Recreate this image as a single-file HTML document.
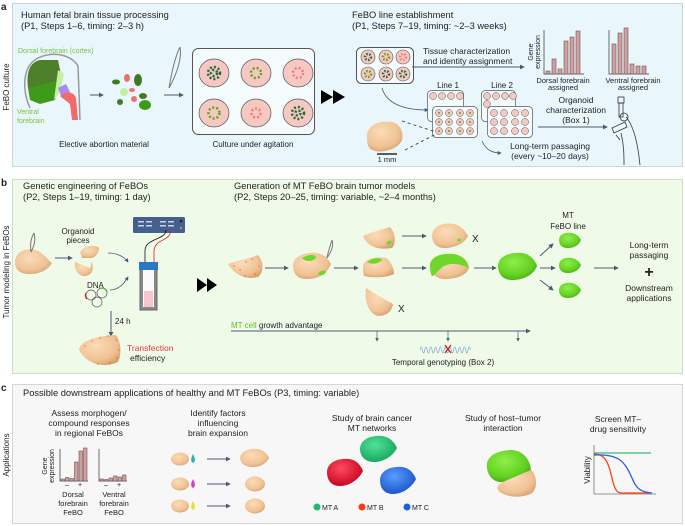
<!DOCTYPE html>
<html><head><meta charset="utf-8"><style>
html,body{margin:0;padding:0;background:#fff;}
svg{display:block;font-family:"Liberation Sans",sans-serif;}
text{fill:#222;}
</style></head><body>
<svg width="685" height="526" viewBox="0 0 685 526" xmlns="http://www.w3.org/2000/svg">
<defs>
<radialGradient id="tan" cx="0.4" cy="0.35" r="0.7"><stop offset="0" stop-color="#fbdcb8"/><stop offset="0.7" stop-color="#f0c294"/><stop offset="1" stop-color="#d9a272"/></radialGradient>
<radialGradient id="grn" cx="0.4" cy="0.35" r="0.7"><stop offset="0" stop-color="#8ef04a"/><stop offset="0.7" stop-color="#62d020"/><stop offset="1" stop-color="#44a812"/></radialGradient>
<radialGradient id="gA" cx="0.4" cy="0.35" r="0.7"><stop offset="0" stop-color="#4fe39a"/><stop offset="1" stop-color="#16a25a"/></radialGradient>
<radialGradient id="gB" cx="0.4" cy="0.35" r="0.7"><stop offset="0" stop-color="#ff4a5e"/><stop offset="1" stop-color="#c4001c"/></radialGradient>
<radialGradient id="gC" cx="0.4" cy="0.35" r="0.7"><stop offset="0" stop-color="#5a9cff"/><stop offset="1" stop-color="#1850c8"/></radialGradient>
<marker id="ar" viewBox="0 0 6 6" refX="5" refY="3" markerWidth="5" markerHeight="5" orient="auto"><path d="M0,0L6,3L0,6z" fill="#4a5a72"/></marker>
</defs>

<!-- Panel frames -->
<rect x="12.5" y="3.5" width="670" height="163" fill="#e9f6fb" stroke="#c8d6dc"/>
<rect x="12.5" y="179.5" width="670" height="194" fill="#f0fae9" stroke="#cfdcc8"/>
<rect x="12.5" y="384.5" width="670" height="139" fill="#f7f7f7" stroke="#d6d6d6"/>
<text x="1" y="10" font-size="10" font-weight="bold" fill="#000">a</text>
<text x="1" y="186" font-size="10" font-weight="bold" fill="#000">b</text>
<text x="1" y="391" font-size="10" font-weight="bold" fill="#000">c</text>
<text transform="translate(9,87) rotate(-90)" text-anchor="middle" font-size="8">FeBO culture</text>
<text transform="translate(9,272) rotate(-90)" text-anchor="middle" font-size="8">Tumor modeling in FeBOs</text>
<text transform="translate(9,455) rotate(-90)" text-anchor="middle" font-size="8">Applications</text>

<!-- ===== Panel a ===== -->
<text x="21" y="18" font-size="9.3">Human fetal brain tissue processing</text>
<text x="21" y="29" font-size="9.3">(P1, Steps 1–6, timing: 2–3 h)</text>
<text x="352" y="18" font-size="9.3">FeBO line establishment</text>
<text x="352" y="29" font-size="9.3">(P1, Steps 7–19, timing: ~2–3 weeks)</text>
<text x="18" y="53" font-size="7" fill="#7dc142" style="fill:#7dc142">Dorsal forebrain (cortex)</text>
<path d="M30,108 C22,90 22,66 38,58 C55,50 72,56 78,66 L80,120" fill="none" stroke="#999" stroke-width="1.5"/>
<path d="M28,88 C26,72 30,62 40,60 L58,60 L62,80 L45,86 Z" fill="#4e7f2a"/>
<path d="M28,88 L45,84 L60,80 L55,100 L40,104 L30,100 Z" fill="#3f9a1a"/>
<path d="M58,70 L64,74 L60,92 L54,100 Z" fill="#c4f0a0"/>
<path d="M58,88 L66,84 L70,92 L62,98 Z" fill="#a88af0"/>
<path d="M60,96 C66,90 74,92 76,98 L78,120 L72,120 L70,104 Z" fill="#f26a6a"/>
<text x="17" y="114" font-size="7" style="fill:#7dc142">Ventral</text>
<text x="17" y="123" font-size="7" style="fill:#7dc142">forebrain</text>
<line x1="90" y1="95" x2="103" y2="95" stroke="#4a5a72" marker-end="url(#ar)"/>
<g>
<ellipse cx="116" cy="82" rx="4" ry="2.5" fill="#3f7a22"/><ellipse cx="127" cy="78" rx="3" ry="4" fill="#f07070"/>
<ellipse cx="138" cy="80" rx="4" ry="6" fill="#3f7a22"/><ellipse cx="124" cy="92" rx="4" ry="4" fill="#c4f0a0"/>
<ellipse cx="132" cy="90" rx="3" ry="2" fill="#f07070"/><ellipse cx="143" cy="96" rx="4" ry="3" fill="#3f7a22"/>
<ellipse cx="134" cy="99" rx="3" ry="3" fill="#f07070"/><ellipse cx="145" cy="105" rx="6" ry="5" fill="#3f9a1a"/>
<ellipse cx="120" cy="102" rx="3" ry="3" fill="#3f7a22"/>
</g>
<text x="104" y="147" text-anchor="middle" font-size="8">Elective abortion material</text>
<path d="M180,47 C176,55 172,70 169,88 M180,47 C182,56 178,72 169,88" stroke="#777" fill="none"/>
<line x1="164" y1="95" x2="183" y2="95" stroke="#4a5a72" marker-end="url(#ar)"/>
<rect x="192.5" y="48.5" width="122" height="86" rx="6" fill="#f3fbfd" stroke="#555"/>
<g fill="#f6c8c2" stroke="#555" stroke-width="0.7">
<ellipse cx="214" cy="73" rx="15" ry="14"/><ellipse cx="256" cy="73" rx="15" ry="14"/><ellipse cx="298" cy="73" rx="15" ry="14"/>
<ellipse cx="214" cy="113" rx="15" ry="14"/><ellipse cx="256" cy="113" rx="15" ry="14"/><ellipse cx="298" cy="113" rx="15" ry="14"/>
</g>
<g stroke-width="2.5" stroke-dasharray="2 2" fill="none">
<circle cx="214" cy="73" r="6" stroke="#1f6b3a"/><circle cx="214" cy="73" r="3" stroke="#1f6b3a"/>
<circle cx="256" cy="73" r="5" stroke="#5ea51e"/>
<circle cx="298" cy="73" r="5" stroke="#f57a7a"/>
<circle cx="214" cy="113" r="5.5" stroke="#5ea51e"/>
<circle cx="256" cy="113" r="4.5" stroke="#f57a7a"/>
<circle cx="298" cy="113" r="6" stroke="#1f6b3a"/><circle cx="298" cy="113" r="2.5" stroke="#1f6b3a"/>
</g>
<text x="253" y="147" text-anchor="middle" font-size="8">Culture under agitation</text>
<path d="M321,90 L333,97 L321,104 Z M333,90 L345,97 L333,104 Z" fill="#000"/>
<rect x="356.5" y="47.5" width="57" height="36" rx="5" fill="#f3fbfd" stroke="#555"/>
<g fill="#f6c8c2" stroke="#555" stroke-width="0.6">
<circle cx="368" cy="57" r="7"/><circle cx="386" cy="57" r="7"/><circle cx="403" cy="57" r="7"/>
<circle cx="368" cy="74" r="7"/><circle cx="386" cy="74" r="7"/><circle cx="403" cy="74" r="7"/>
</g>
<g fill="none" stroke-width="2.5" stroke-dasharray="1.5 1.5">
<circle cx="368" cy="57" r="3" stroke="#1f6b3a"/><circle cx="386" cy="57" r="3" stroke="#5ea51e"/><circle cx="403" cy="57" r="3" stroke="#f57a7a"/>
<circle cx="368" cy="74" r="3" stroke="#5ea51e"/><circle cx="386" cy="74" r="3" stroke="#1f6b3a"/><circle cx="403" cy="74" r="3" stroke="#1f6b3a"/>
</g>
<text x="423" y="54" font-size="8.5">Tissue characterization</text>
<text x="423" y="64" font-size="8.5">and identity assignment</text>
<line x1="412" y1="67" x2="524" y2="67" stroke="#4a5a72" marker-end="url(#ar)"/>
<text transform="translate(533,52) rotate(-90)" text-anchor="middle" font-size="7">Gene</text>
<text transform="translate(540,52) rotate(-90)" text-anchor="middle" font-size="7">expression</text>
<path d="M544,30 V74 H584" fill="none" stroke="#333" stroke-width="0.7"/>
<g fill="#caa2a2" stroke="#7a4e4e" stroke-width="0.6">
<rect x="546" y="71" width="4" height="3"/><rect x="552" y="59" width="4" height="15"/><rect x="558" y="69" width="4" height="5"/>
<rect x="564" y="41" width="4" height="33"/><rect x="570" y="37" width="4" height="37"/><rect x="576" y="31" width="4" height="43"/>
</g>
<path d="M609,30 V74 H649" fill="none" stroke="#333" stroke-width="0.7"/>
<g fill="#caa2a2" stroke="#7a4e4e" stroke-width="0.6">
<rect x="612" y="44" width="4" height="30"/><rect x="618" y="33" width="4" height="41"/><rect x="624" y="28" width="4" height="46"/>
<rect x="630" y="64" width="4" height="10"/><rect x="636" y="66" width="4" height="8"/><rect x="642" y="66" width="4" height="8"/>
</g>
<text x="563" y="83" text-anchor="middle" font-size="7.5">Dorsal forebrain</text>
<text x="563" y="90" text-anchor="middle" font-size="7.5">assigned</text>
<text x="633" y="83" text-anchor="middle" font-size="7.5">Ventral forebrain</text>
<text x="633" y="90" text-anchor="middle" font-size="7.5">assigned</text>
<text x="448" y="88" text-anchor="middle" font-size="8">Line 1</text>
<text x="502" y="88" text-anchor="middle" font-size="8">Line 2</text>
<g id="plate">
<rect x="427.5" y="90.5" width="36" height="31" rx="4" fill="#f3fbfd" stroke="#555" stroke-width="0.7"/>
</g>
<rect x="481.5" y="90.5" width="34" height="31" rx="4" fill="#f3fbfd" stroke="#555" stroke-width="0.7"/>
<g fill="#f6c8c2" stroke="#555" stroke-width="0.5">
<circle cx="433" cy="96" r="3.5"/><circle cx="442" cy="96" r="3.5"/><circle cx="451" cy="96" r="3.5"/><circle cx="460" cy="96" r="3.5"/>
<circle cx="487" cy="96" r="3.5"/><circle cx="496" cy="96" r="3.5"/><circle cx="505" cy="96" r="3.5"/><circle cx="513" cy="96" r="3.5"/>
<circle cx="487" cy="104" r="3.5"/>
</g>
<rect x="432.5" y="106.5" width="45" height="31" rx="4" fill="#f3fbfd" stroke="#555" stroke-width="0.7"/>
<rect x="487.5" y="106.5" width="45" height="31" rx="4" fill="#f3fbfd" stroke="#555" stroke-width="0.7"/>
<g fill="#f6c8c2" stroke="#555" stroke-width="0.5">
<circle cx="439" cy="113" r="3.5"/><circle cx="449" cy="113" r="3.5"/><circle cx="460" cy="113" r="3.5"/><circle cx="470" cy="113" r="3.5"/>
<circle cx="439" cy="122" r="3.5"/><circle cx="449" cy="122" r="3.5"/><circle cx="460" cy="122" r="3.5"/><circle cx="470" cy="122" r="3.5"/>
<circle cx="439" cy="131" r="3.5"/><circle cx="449" cy="131" r="3.5"/><circle cx="460" cy="131" r="3.5"/><circle cx="470" cy="131" r="3.5"/>
<circle cx="494" cy="113" r="3.5"/><circle cx="504" cy="113" r="3.5"/><circle cx="515" cy="113" r="3.5"/><circle cx="525" cy="113" r="3.5"/>
<circle cx="494" cy="122" r="3.5"/><circle cx="504" cy="122" r="3.5"/><circle cx="515" cy="122" r="3.5"/><circle cx="525" cy="122" r="3.5"/>
<circle cx="494" cy="131" r="3.5"/><circle cx="504" cy="131" r="3.5"/><circle cx="515" cy="131" r="3.5"/><circle cx="525" cy="131" r="3.5"/>
</g>
<g fill="#5ea51e"><circle cx="439" cy="113" r="1"/><circle cx="449" cy="113" r="1"/><circle cx="460" cy="113" r="1"/><circle cx="470" cy="113" r="1"/><circle cx="439" cy="122" r="1"/><circle cx="449" cy="122" r="1"/><circle cx="460" cy="122" r="1"/><circle cx="470" cy="122" r="1"/><circle cx="439" cy="131" r="1"/><circle cx="449" cy="131" r="1"/><circle cx="460" cy="131" r="1"/><circle cx="470" cy="131" r="1"/></g>
<path d="M382,88 C386,102 400,110 428,110" fill="none" stroke="#4a5a72" stroke-width="0.8" marker-end="url(#ar)"/>
<line x1="402" y1="121" x2="436" y2="132" stroke="#333" stroke-width="0.8" stroke-dasharray="3 3"/>
<line x1="405" y1="150" x2="436" y2="134" stroke="#333" stroke-width="0.8" stroke-dasharray="3 3"/>
<path d="M367,138 C366,126 378,120 392,122 C400,124 404,132 402,140 C398,150 380,154 372,150 C368,148 367,144 367,138 Z" fill="url(#tan)"/>
<line x1="377" y1="154" x2="397" y2="154" stroke="#000" stroke-width="1.2"/>
<text x="387" y="162" text-anchor="middle" font-size="7.5">1 mm</text>
<text x="576" y="103" text-anchor="middle" font-size="8.5">Organoid</text>
<text x="576" y="113" text-anchor="middle" font-size="8.5">characterization</text>
<text x="576" y="123" text-anchor="middle" font-size="8.5">(Box 1)</text>
<line x1="538" y1="127" x2="607" y2="127" stroke="#4a5a72" marker-end="url(#ar)"/>
<path d="M482,141 C486,150 492,153 501,153" fill="none" stroke="#4a5a72" stroke-width="0.8" marker-end="url(#ar)"/>
<text x="550" y="149" text-anchor="middle" font-size="8.5">Long-term passaging</text>
<text x="550" y="159" text-anchor="middle" font-size="8.5">(every ~10–20 days)</text>
<g fill="none" stroke="#333" stroke-width="0.8">
<rect x="618" y="97" width="6" height="6"/><rect x="619" y="103" width="4" height="14"/>
<circle cx="624" cy="117" r="4"/>
<path d="M612,128 L625,122 L627,127 L614,133 Z"/><path d="M616,135 L620,140"/>
<path d="M626,117 C634,126 638,145 640,165"/><path d="M621,133 C624,145 624,155 624,165"/>
</g>

<!-- ===== Panel b ===== -->
<text x="23" y="189" font-size="9.3">Genetic engineering of FeBOs</text>
<text x="23" y="200" font-size="9.3">(P2, Steps 1–19, timing: 1 day)</text>
<text x="234" y="189" font-size="9.3">Generation of MT FeBO brain tumor models</text>
<text x="234" y="200" font-size="9.3">(P2, Steps 20–25, timing: variable, ~2–4 months)</text>
<path d="M15,262 C15,250 30,246 40,252 C46,256 50,262 52,263 C48,270 40,274 30,274 C20,274 15,270 15,262 Z" fill="url(#tan)"/>
<path d="M34,233 C31,238 30,245 31,252 M34,233 C36,240 34,246 31,252" stroke="#777" fill="none"/>
<line x1="55" y1="258" x2="72" y2="258" stroke="#4a5a72" marker-end="url(#ar)"/>
<text x="78" y="234" text-anchor="middle" font-size="8">Organoid</text>
<text x="78" y="243" text-anchor="middle" font-size="8">pieces</text>
<path d="M80,252 C84,246 94,244 99,248 C99,252 96,257 92,258 L82,258 Z" fill="url(#tan)"/>
<path d="M75,262 L90,268 L92,262 C94,270 92,275 85,276 C78,276 74,270 75,262 Z" fill="url(#tan)"/>
<path d="M108,253 C116,253 124,256 128,262" fill="none" stroke="#4a5a72" stroke-width="0.8" marker-end="url(#ar)"/>
<text x="87" y="288" font-size="8">DNA</text>
<g fill="none" stroke="#555" stroke-width="0.7"><circle cx="91" cy="295" r="5"/><circle cx="102" cy="293" r="5"/><circle cx="97" cy="302" r="5"/></g>
<path d="M86,293 A5,5 0 0 0 87,299" stroke="#e02020" stroke-width="1.3" fill="none"/>
<path d="M102,288 A5,5 0 0 1 107,292" stroke="#30c030" stroke-width="1.3" fill="none"/>
<path d="M110,290 C118,290 124,284 128,277" fill="none" stroke="#4a5a72" stroke-width="0.8" marker-end="url(#ar)"/>
<rect x="133" y="217" width="52" height="16" rx="1.5" fill="#44608e"/>
<g fill="#c8d4e4"><rect x="138" y="221" width="6" height="1.5"/><rect x="146" y="221" width="6" height="1.5"/><rect x="138" y="225" width="6" height="1.5"/><rect x="146" y="225" width="6" height="1.5"/><rect x="160" y="221" width="6" height="1.5"/><rect x="168" y="221" width="6" height="1.5"/><rect x="160" y="225" width="6" height="1.5"/><rect x="168" y="225" width="6" height="1.5"/></g>
<circle cx="181" cy="221" r="1.3" fill="#222"/><circle cx="181" cy="228" r="1" fill="#aaa"/>
<path d="M166,230 C166,240 146,238 145,250 L145,262" fill="none" stroke="#111" stroke-width="0.8"/>
<path d="M171,230 C170,242 156,238 154,250 L154,262" fill="none" stroke="#e02020" stroke-width="0.8"/>
<rect x="139" y="262" width="19" height="8" fill="#2a78c4"/>
<path d="M140,270 V310 H157 V270" fill="#888" stroke="#666"/>
<rect x="143" y="270" width="11" height="37" fill="#fafafa"/>
<rect x="144" y="291" width="9" height="16" fill="#f5c6cc"/>
<line x1="111" y1="311" x2="111" y2="336" stroke="#4a5a72" marker-end="url(#ar)"/>
<text x="115" y="324" font-size="8">24 h</text>
<path d="M79,350 C80,340 98,336 116,335 C121,342 122,354 118,362 C106,368 88,366 79,350 Z" fill="url(#tan)"/>
<g fill="#e83a3a"><circle cx="85" cy="346" r=".6"/><circle cx="92" cy="341" r=".6"/><circle cx="100" cy="338" r=".6"/><circle cx="108" cy="336" r=".6"/><circle cx="116" cy="340" r=".6"/><circle cx="119" cy="350" r=".6"/><circle cx="117" cy="358" r=".6"/><circle cx="110" cy="363" r=".6"/><circle cx="98" cy="364" r=".6"/></g>
<text x="127" y="351" font-size="8.5" style="fill:#e83a3a">Transfection</text>
<text x="130" y="361" font-size="8.5">efficiency</text>
<path d="M197,278 L207,285 L197,292 Z M207,278 L217,285 L207,292 Z" fill="#000"/>
<!-- chain -->
<path d="M228,264 C238,260 252,258 258,255 C264,262 264,272 258,277 C248,280 235,276 228,264 Z" fill="url(#tan)"/>
<g fill="#e83a3a"><circle cx="234" cy="266" r=".6"/><circle cx="240" cy="270" r=".6"/><circle cx="246" cy="262" r=".6"/><circle cx="252" cy="259" r=".6"/><circle cx="259" cy="266" r=".6"/><circle cx="255" cy="274" r=".6"/><circle cx="245" cy="276" r=".6"/></g>
<line x1="265" y1="268" x2="288" y2="268" stroke="#4a5a72" marker-end="url(#ar)"/>
<path d="M293,266 C293,256 305,252 316,253 C324,254 328,258 331,264 C326,276 316,279 306,279 C298,279 293,274 293,266 Z" fill="url(#tan)"/>
<path d="M302,258 C308,254 316,254 316,258 C312,262 306,262 302,258 Z" fill="#6fd62a"/>
<path d="M318,274 C320,270 326,270 326,272 C324,276 320,276 318,274 Z" fill="#6fd62a"/>
<path d="M332,240 C330,246 328,252 327,258 M332,240 C334,246 331,252 327,258" stroke="#777" fill="none"/>
<line x1="334" y1="268" x2="358" y2="268" stroke="#4a5a72" marker-end="url(#ar)"/>
<path d="M363,236 C372,232 384,229 390,227 C396,234 396,244 392,248 C380,250 368,248 363,236 Z" fill="url(#tan)"/>
<path d="M386,243 C388,240 392,240 392,242 C390,245 388,245 386,243 Z" fill="#6fd62a"/>
<line x1="402" y1="236" x2="426" y2="236" stroke="#4a5a72" marker-end="url(#ar)"/>
<path d="M432,236 C432,226 444,222 454,224 C462,226 466,232 468,236 C464,244 454,248 444,248 C436,248 432,242 432,236 Z" fill="url(#tan)"/>
<path d="M457,240 C458,238 461,238 461,240 C460,242 458,242 457,240 Z" fill="#6fd62a"/>
<text x="472" y="242" font-size="10">X</text>
<path d="M363,266 C364,259 376,256 386,258 C392,262 394,270 394,274 C386,278 372,278 364,276 C363,272 363,270 363,266 Z" fill="url(#tan)"/>
<path d="M367,262 C372,258 380,257 382,260 C378,264 372,265 367,262 Z" fill="#6fd62a"/>
<line x1="402" y1="268" x2="426" y2="268" stroke="#4a5a72" marker-end="url(#ar)"/>
<path d="M430,264 C432,256 442,253 454,254 C464,256 468,262 469,268 C466,276 456,279 444,279 C436,279 430,272 430,264 Z" fill="url(#tan)"/>
<path d="M430,264 C432,256 442,253 454,254 C464,256 468,262 469,268 C460,264 452,262 444,266 C438,270 435,276 432,276 C430,272 430,268 430,264 Z" fill="#6fd62a"/>
<path d="M366,288 C372,292 382,298 393,304 C392,312 386,316 378,316 C370,314 364,304 366,288 Z" fill="url(#tan)"/>
<text x="398" y="312" font-size="10">X</text>
<line x1="474" y1="268" x2="496" y2="268" stroke="#4a5a72" marker-end="url(#ar)"/>
<path d="M498,266 C498,256 510,252 522,253 C530,254 535,260 537,266 C533,276 522,280 512,280 C503,280 498,274 498,266 Z" fill="url(#grn)"/>
<line x1="540" y1="256" x2="553" y2="244" stroke="#4a5a72" marker-end="url(#ar)"/>
<line x1="540" y1="268" x2="555" y2="268" stroke="#4a5a72" marker-end="url(#ar)"/>
<line x1="540" y1="280" x2="553" y2="290" stroke="#4a5a72" marker-end="url(#ar)"/>
<path d="M559,240 C559,234 566,232 572,233 C577,234 580,238 581,240 C579,245 574,248 568,248 C562,248 559,245 559,240 Z" fill="url(#grn)"/>
<path d="M559,265 C559,259 566,257 572,258 C577,259 580,263 581,265 C579,270 574,273 568,273 C562,273 559,270 559,265 Z" fill="url(#grn)"/>
<path d="M559,290 C559,284 566,282 572,283 C577,284 580,288 581,290 C579,295 574,298 568,298 C562,298 559,295 559,290 Z" fill="url(#grn)"/>
<text x="568" y="218" text-anchor="middle" font-size="8">MT</text>
<text x="568" y="229" text-anchor="middle" font-size="8">FeBO line</text>
<line x1="594" y1="268" x2="618" y2="268" stroke="#4a5a72" marker-end="url(#ar)"/>
<text x="649" y="248" text-anchor="middle" font-size="8.5">Long-term</text>
<text x="649" y="258" text-anchor="middle" font-size="8.5">passaging</text>
<text x="649" y="277" text-anchor="middle" font-size="16" font-weight="bold" fill="#000">+</text>
<text x="649" y="291" text-anchor="middle" font-size="8.5">Downstream</text>
<text x="649" y="301" text-anchor="middle" font-size="8.5">applications</text>
<text x="231" y="328" font-size="8"><tspan style="fill:#62c020">MT cell</tspan> growth advantage</text>
<line x1="231" y1="331" x2="530" y2="331" stroke="#4a5a72" marker-end="url(#ar)"/>
<line x1="377" y1="331" x2="377" y2="341" stroke="#4a5a72" stroke-width="0.7" marker-end="url(#ar)"/>
<line x1="448" y1="331" x2="448" y2="341" stroke="#4a5a72" stroke-width="0.7" marker-end="url(#ar)"/>
<line x1="518" y1="331" x2="518" y2="341" stroke="#4a5a72" stroke-width="0.7" marker-end="url(#ar)"/>
<path d="M420,350 q1.2,-6 2.4,0 t2.4,0 t2.4,0 t2.4,0 t2.4,0 t2.4,0 t2.4,0 t2.4,0 t2.4,0 t2.4,0 t2.4,0 t2.4,0 t2.4,0 t2.4,0 t2.4,0 t2.4,0 t2.4,0 t2.4,0 t2.4,0 t2.4,0 t2.4,0" fill="none" stroke="#7aa8e0" stroke-width="0.7"/>
<path d="M445,345 L451,353 M451,345 L445,353" stroke="#d02020" stroke-width="1.3"/>
<text x="443" y="365" text-anchor="middle" font-size="8">Temporal genotyping (Box 2)</text>

<!-- ===== Panel c ===== -->
<text x="23" y="396" font-size="9.3">Possible downstream applications of healthy and MT FeBOs (P3, timing: variable)</text>
<text x="89" y="416" text-anchor="middle" font-size="8.5">Assess morphogen/</text>
<text x="89" y="426" text-anchor="middle" font-size="8.5">compound responses</text>
<text x="89" y="436" text-anchor="middle" font-size="8.5">in regional FeBOs</text>
<text transform="translate(47,466) rotate(-90)" text-anchor="middle" font-size="7">Gene</text>
<text transform="translate(54,466) rotate(-90)" text-anchor="middle" font-size="7">expression</text>
<path d="M60,449 V481 H88" fill="none" stroke="#333" stroke-width="0.7"/>
<g fill="#caa2a2" stroke="#7a4e4e" stroke-width="0.6">
<rect x="61" y="479" width="3.5" height="2"/><rect x="65.5" y="477.5" width="3.5" height="3.5"/><rect x="70" y="478.5" width="3.5" height="2.5"/>
<rect x="74.5" y="462" width="3.5" height="19"/><rect x="79" y="451" width="3.5" height="30"/><rect x="83.5" y="448" width="3.5" height="33"/>
</g>
<path d="M99,449 V481 H127" fill="none" stroke="#333" stroke-width="0.7"/>
<g fill="#caa2a2" stroke="#7a4e4e" stroke-width="0.6">
<rect x="100" y="479" width="3.5" height="2"/><rect x="104.5" y="479.5" width="3.5" height="1.5"/><rect x="109" y="478" width="3.5" height="3"/>
<rect x="113.5" y="476" width="3.5" height="5"/><rect x="118" y="477" width="3.5" height="4"/><rect x="122.5" y="475" width="3.5" height="6"/>
</g>
<text x="67" y="487" font-size="7" text-anchor="middle">–</text><text x="80" y="487" font-size="7" text-anchor="middle">+</text>
<text x="106" y="487" font-size="7" text-anchor="middle">–</text><text x="119" y="487" font-size="7" text-anchor="middle">+</text>
<text x="73" y="497" text-anchor="middle" font-size="7.5">Dorsal</text><text x="73" y="506" text-anchor="middle" font-size="7.5">forebrain</text><text x="73" y="515" text-anchor="middle" font-size="7.5">FeBO</text>
<text x="114" y="497" text-anchor="middle" font-size="7.5">Ventral</text><text x="114" y="506" text-anchor="middle" font-size="7.5">forebrain</text><text x="114" y="515" text-anchor="middle" font-size="7.5">FeBO</text>
<text x="218" y="416" text-anchor="middle" font-size="8.5">Identify factors</text>
<text x="218" y="426" text-anchor="middle" font-size="8.5">influencing</text>
<text x="218" y="436" text-anchor="middle" font-size="8.5">brain expansion</text>
<g fill="url(#tan)">
<ellipse cx="180" cy="459" rx="9" ry="6.5"/><ellipse cx="180" cy="484" rx="9" ry="6.5"/><ellipse cx="180" cy="506" rx="9" ry="6.5"/>
<path d="M240,458 C240,451 250,448 258,449 C264,450 268,455 269,458 C266,464 260,467 253,467 C245,467 240,463 240,458 Z"/>
<ellipse cx="255" cy="484" rx="10" ry="7.5"/><ellipse cx="255" cy="506" rx="10" ry="7.5"/>
</g>
<path d="M193,454 C191,458 190,461 193,463 C196,461 195,458 193,454 Z" fill="#2bb0b8"/>
<path d="M193,479 C191,483 190,486 193,488 C196,486 195,483 193,479 Z" fill="#d040d0"/>
<path d="M193,501 C191,505 190,508 193,510 C196,508 195,505 193,501 Z" fill="#e8e030"/>
<line x1="207" y1="459" x2="230" y2="459" stroke="#4a5a72" marker-end="url(#ar)"/>
<line x1="207" y1="484" x2="230" y2="484" stroke="#4a5a72" marker-end="url(#ar)"/>
<line x1="207" y1="506" x2="230" y2="506" stroke="#4a5a72" marker-end="url(#ar)"/>
<text x="372" y="421" text-anchor="middle" font-size="8.5">Study of brain cancer</text>
<text x="372" y="431" text-anchor="middle" font-size="8.5">MT networks</text>
<path d="M360,449 C360,440 370,435 382,436 C390,437 395,443 397,448 C393,456 384,462 374,462 C365,462 360,456 360,449 Z" fill="url(#gA)"/>
<path d="M327,472 C327,463 337,458 349,459 C357,460 361,466 363,471 C359,479 350,486 340,486 C331,486 327,480 327,472 Z" fill="url(#gB)"/>
<path d="M380,480 C380,471 390,466 402,467 C410,468 414,474 416,479 C412,487 403,494 393,494 C384,494 380,488 380,480 Z" fill="url(#gC)"/>
<circle cx="317" cy="507" r="3.5" fill="#1fba6a"/><text x="322" y="510" font-size="7">MT A</text>
<circle cx="362" cy="507" r="3.5" fill="#ff3a10"/><text x="367" y="510" font-size="7">MT B</text>
<circle cx="407" cy="507" r="3.5" fill="#2060e0"/><text x="412" y="510" font-size="7">MT C</text>
<text x="503" y="421" text-anchor="middle" font-size="8.5">Study of host–tumor</text>
<text x="503" y="431" text-anchor="middle" font-size="8.5">interaction</text>
<path d="M487,468 C485,456 498,450 512,450 C524,451 530,460 531,470 L503,482 C494,483 488,476 487,468 Z" fill="url(#grn)"/>
<path d="M503,482 L531,470 C537,475 538,488 532,493 C524,498 508,498 500,492 C495,488 498,484 503,482 Z" fill="url(#tan)"/>
<text x="618" y="422" text-anchor="middle" font-size="8.5">Screen MT–</text>
<text x="618" y="432" text-anchor="middle" font-size="8.5">drug sensitivity</text>
<text transform="translate(590,470) rotate(-90)" text-anchor="middle" font-size="8">Viability</text>
<path d="M594,445 V494 H656" fill="none" stroke="#777" stroke-width="0.8"/>
<line x1="594" y1="453" x2="651" y2="453" stroke="#3ab878" stroke-width="1.3"/>
<path d="M594,454 C604,454 608,460 612,478 C615,492 618,493 622,493 L650,493" fill="none" stroke="#ff4010" stroke-width="1.3"/>
<path d="M594,455 C618,454 624,460 632,478 C636,488 640,492 652,493" fill="none" stroke="#2a60e0" stroke-width="1.3"/>
</svg>
</body></html>
